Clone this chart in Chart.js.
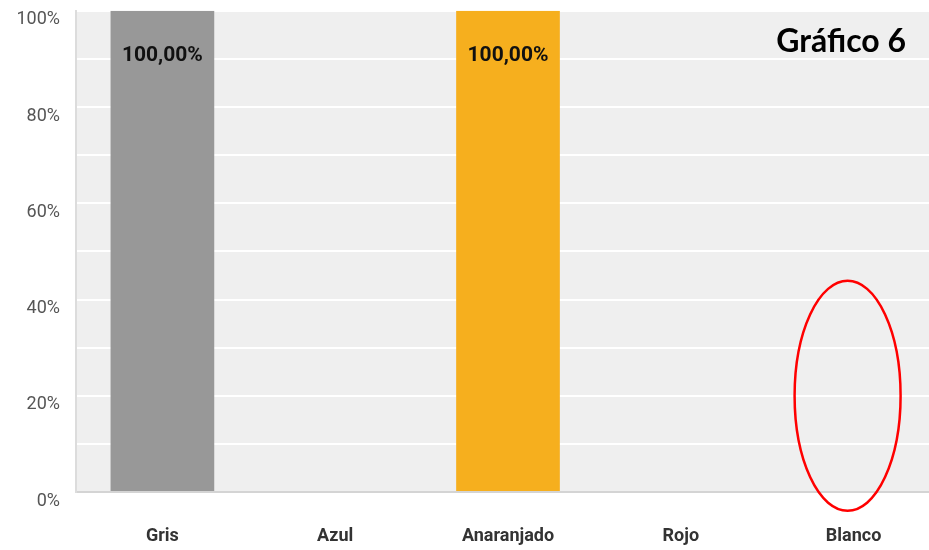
<!DOCTYPE html>
<html>
<head>
<meta charset="utf-8">
<script src="https://cdn.jsdelivr.net/npm/chart.js@4/dist/chart.umd.min.js"></script>
<style>
  html, body { margin: 0; padding: 0; background: #fff; overflow: hidden; }
  .wrap { width: 929px; height: 550px; overflow: hidden; }
  .box { width: 940px; height: 566px; margin-top: -16px; }
</style>
</head>
<body>
<div class="wrap"><div class="box"><canvas id="bar-chart"></canvas></div></div>
<script>
// 데이터
var categories = ["Gris", "Azul", "Anaranjado", "Rojo", "Blanco"];
var values = [100, 0, 100, 0, 0];
var barColors = ["#989898", "#4472c4", "#f6af1e", "#e03030", "#ffffff"];
var yTicks = [0, 20, 40, 60, 80, 100];
var chartTitle = "Gráfico 6";

// 플롯 배경
var bgPlugin = {
  id: "plotBg",
  beforeDraw: function (chart) {
    var a = chart.chartArea, ctx = chart.ctx;
    ctx.save();
    ctx.fillStyle = "#efefef";
    ctx.fillRect(a.left, a.top, a.right - a.left, a.bottom - a.top);
    ctx.restore();
  }
};

// 값 라벨 + 제목 + 빨간 타원
var overlayPlugin = {
  id: "overlay",
  afterDatasetsDraw: function (chart) {
    var ctx = chart.ctx;
    var meta = chart.getDatasetMeta(0);
    ctx.save();
    ctx.font = "bold 21px 'Roboto', sans-serif";
    ctx.fillStyle = "#111";
    ctx.textAlign = "center";
    ctx.textBaseline = "middle";
    meta.data.forEach(function (bar, i) {
      if (values[i] > 0) {
        ctx.fillText(values[i].toFixed(2).replace(".", ",") + "%", bar.x, bar.y + 45);
      }
    });

    ctx.font = "bold 32px 'Lato', 'Open Sans', sans-serif";
    ctx.textAlign = "right";
    ctx.fillStyle = "#000";
    ctx.fillText(chartTitle, 906, chart.chartArea.top + 31);

    var xs = chart.scales.x, ys = chart.scales.y;
    ctx.strokeStyle = "#ff0000";
    ctx.lineWidth = 2.5;
    ctx.beginPath();
    ctx.ellipse(xs.getPixelForValue(4) - 6, ys.getPixelForValue(20), 53, 115, 0, 0, Math.PI * 2);
    ctx.stroke();
    ctx.restore();
  }
};

new Chart(document.getElementById("bar-chart"), {
  type: "bar",
  data: {
    labels: categories,
    datasets: [
      {
        data: values,
        backgroundColor: barColors,
        barPercentage: 0.6,
        categoryPercentage: 1
      }
    ]
  },
  options: {
    responsive: true,
    maintainAspectRatio: false,
    animation: false,
    layout: { padding: { top: 11, right: 0, left: 0, bottom: 0 } },
    plugins: {
      legend: { display: false },
      tooltip: { enabled: false }
    },
    scales: {
      x: {
        grid: { display: false, drawTicks: false },
        border: { color: "#d4d4d4", width: 2 },
        ticks: {
          padding: 34,
          color: "#333",
          font: { family: "'Roboto', sans-serif", size: 18, weight: "bold" }
        },
        afterFit: function (s) { s.height = 58; }
      },
      y: {
        min: 0,
        max: 100,
        grid: { color: "#ffffff", lineWidth: 2, drawTicks: false },
        border: { color: "#dcdcdc", width: 2 },
        ticks: {
          stepSize: 10,
          padding: 16,
          labelOffset: 9,
          color: "#555",
          font: { family: "'Roboto', sans-serif", size: 18 },
          callback: function (v) { return yTicks.indexOf(v) >= 0 ? v + "%" : ""; }
        },
        afterFit: function (s) { s.width = 76; }
      }
    }
  },
  plugins: [bgPlugin, overlayPlugin]
});
</script>
</body>
</html>
